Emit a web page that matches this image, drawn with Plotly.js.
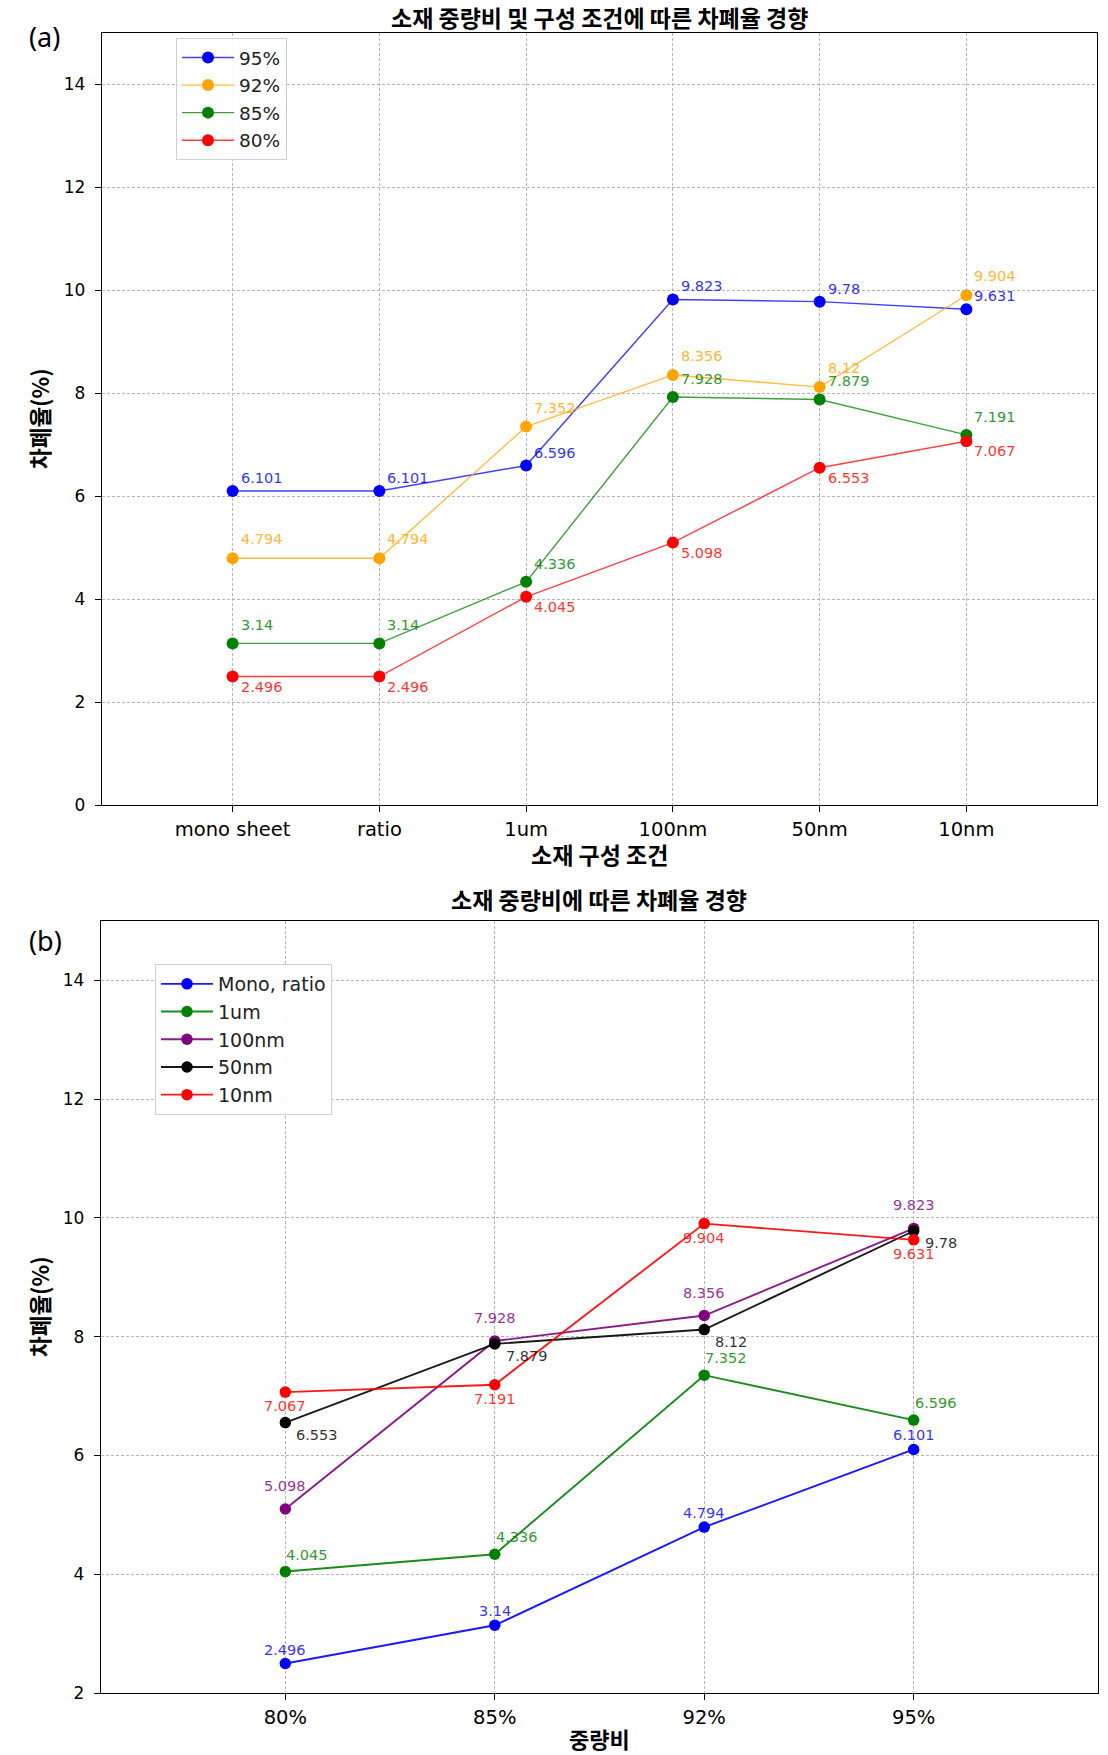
<!DOCTYPE html>
<html>
<head>
<meta charset="utf-8">
<script src="https://cdn.plot.ly/plotly-3.0.1.min.js"></script>
<style>html,body{margin:0;padding:0;background:#fff;}#chart{width:1108px;height:1755px;}</style>
</head>
<body>
<div id="chart"></div>
<script>
// ---------- data ----------
const categoriesA = ["mono sheet", "ratio", "1um", "100nm", "50nm", "10nm"];
const seriesA95 = [6.101, 6.101, 6.596, 9.823, 9.78, 9.631];
const seriesA92 = [4.794, 4.794, 7.352, 8.356, 8.12, 9.904];
const seriesA85 = [3.14, 3.14, 4.336, 7.928, 7.879, 7.191];
const seriesA80 = [2.496, 2.496, 4.045, 5.098, 6.553, 7.067];
const namesA = ["95%", "92%", "85%", "80%"];

const categoriesB = ["80%", "85%", "92%", "95%"];
const seriesBMono = [2.496, 3.14, 4.794, 6.101];
const seriesB1um = [4.045, 4.336, 7.352, 6.596];
const seriesB100nm = [5.098, 7.928, 8.356, 9.823];
const seriesB50nm = [6.553, 7.879, 8.12, 9.78];
const seriesB10nm = [7.067, 7.191, 9.904, 9.631];
const namesB = ["Mono, ratio", "1um", "100nm", "50nm", "10nm"];

const titleA = "소재 중량비 및 구성 조건에 따른 차폐율 경향";
const titleB = "소재 중량비에 따른 차폐율 경향";
const xTitleA = "소재 구성 조건";
const xTitleB = "중량비";
const yTitle = "차폐율(%)";

// ---------- styles ----------
const KR = '"Noto Sans CJK KR", "Noto Sans", sans-serif';
const DJ = '"DejaVu Sans", sans-serif';

const specA = [
  {name: namesA[0], y: seriesA95, color: "#0000ff", rgb: "0,0,255", xa: "left", dx: 6, dy: 13},
  {name: namesA[1], y: seriesA92, color: "#ffa500", rgb: "255,165,0", xa: "left", dx: 6, dy: 19},
  {name: namesA[2], y: seriesA85, color: "#008000", rgb: "0,128,0", xa: "left", dx: 6, dy: 18},
  {name: namesA[3], y: seriesA80, color: "#ff0000", rgb: "255,0,0", xa: "left", dx: 6, dy: -10}
];
const specB = [
  {name: namesB[0], y: seriesBMono, color: "#0000ff", rgb: "0,0,255", xa: "center", dx: 0, dy: 14},
  {name: namesB[1], y: seriesB1um, color: "#008000", rgb: "0,128,0", xa: "left", dx: -1, dy: 17},
  {name: namesB[2], y: seriesB100nm, color: "#800080", rgb: "128,0,128", xa: "center", dx: 0, dy: 23},
  {name: namesB[3], y: seriesB50nm, color: "#000000", rgb: "0,0,0", xa: "left", dx: 9, dy: -12},
  {name: namesB[4], y: seriesB10nm, color: "#ff0000", rgb: "255,0,0", xa: "center", dx: 0, dy: -14}
];

const traces = [];
const annotations = [];

specA.forEach((s, i) => {
  traces.push({
    type: "scatter", mode: "lines+markers", name: s.name,
    x: categoriesA, y: s.y, xaxis: "x", yaxis: "y",
    legend: "legend", legendgroup: "a" + i,
    line: {color: "rgba(" + s.rgb + ",0.75)", width: 1.4},
    marker: {color: s.color, size: 12}
  });
  s.y.forEach((v, j) => {
    annotations.push({
      xref: "x", yref: "y", x: categoriesA[j], y: v, text: String(v),
      showarrow: false, xanchor: s.xa, yanchor: "middle", xshift: s.dx, yshift: s.dy,
      font: {family: DJ, size: 14.5, color: s.color}, opacity: 0.8
    });
  });
});

specB.forEach((s, i) => {
  traces.push({
    type: "scatter", mode: "lines+markers", name: s.name,
    x: categoriesB, y: s.y, xaxis: "x2", yaxis: "y2",
    legend: "legend2", legendgroup: "b" + i,
    line: {color: "rgba(" + s.rgb + ",0.9)", width: 1.9},
    marker: {color: s.color, size: 11.5}
  });
  s.y.forEach((v, j) => {
    annotations.push({
      xref: "x2", yref: "y2", x: categoriesB[j], y: v, text: String(v),
      showarrow: false, xanchor: s.xa, yanchor: "middle", xshift: s.dx, yshift: s.dy,
      font: {family: DJ, size: 14.5, color: s.color}, opacity: 0.8
    });
  });
});

// titles, axis titles and panel labels
const W = 1108, H = 1755;
function px(x) { return x / W; }
function py(y) { return 1 - y / H; }
function paperText(text, x, y, font, extra) {
  return Object.assign({xref: "paper", yref: "paper", x: px(x), y: py(y), text: text,
    showarrow: false, xanchor: "center", yanchor: "middle", font: font}, extra || {});
}
const boldKR = {family: KR, size: 23, color: "#000", weight: "bold"};
const boldKRs = {family: KR, size: 22, color: "#000", weight: "bold"};
const boldKRy = {family: KR, size: 22.5, color: "#000", weight: "bold"};
annotations.push(paperText(titleA, 599, 17, boldKR));
annotations.push(paperText(titleB, 599, 899, boldKR));
annotations.push(paperText(xTitleA, 599, 854, boldKR));
annotations.push(paperText(xTitleB, 599, 1738, boldKRs));
annotations.push(paperText(yTitle, 39, 419, boldKRy, {textangle: -90}));
annotations.push(paperText(yTitle, 39, 1307, boldKRy, {textangle: -90}));
annotations.push(paperText("(a)", 44, 37, {family: '"Noto Sans", sans-serif', size: 27, color: "#000"}));
annotations.push(paperText("(b)", 45, 940, {family: '"Noto Sans", sans-serif', size: 27, color: "#000"}));

const xCommon = {
  type: "category", showline: true, mirror: true, linecolor: "#000", linewidth: 1.3,
  ticks: "outside", ticklen: 6, tickcolor: "#000", tickwidth: 1,
  showgrid: true, gridcolor: "#b5b5b5", gridwidth: 1, griddash: "3px,2px",
  zeroline: false, tickfont: {family: DJ, size: 19.5, color: "#000"}, fixedrange: true
};
const yCommon = {
  showline: true, mirror: true, linecolor: "#000", linewidth: 1.3,
  ticks: "outside", ticklen: 6, tickcolor: "#000", tickwidth: 1, ticklabelstandoff: 6,
  showgrid: true, gridcolor: "#b5b5b5", gridwidth: 1, griddash: "3px,2px",
  zeroline: false, tickfont: {family: DJ, size: 17, color: "#000"}, dtick: 2, tick0: 0, fixedrange: true
};

const layout = {
  width: W, height: H,
  margin: {l: 0, r: 0, t: 0, b: 0},
  paper_bgcolor: "#fff", plot_bgcolor: "#fff",
  showlegend: true,
  xaxis: Object.assign({}, xCommon, {domain: [px(102), px(1097)], anchor: "y", range: [-0.89, 5.89]}),
  yaxis: Object.assign({}, yCommon, {domain: [py(805), py(33)], anchor: "x", range: [0, 15]}),
  xaxis2: Object.assign({}, xCommon, {domain: [px(101), px(1098)], anchor: "y2", range: [-0.88, 3.88]}),
  yaxis2: Object.assign({}, yCommon, {domain: [py(1693), py(921)], anchor: "x2", range: [2, 15]}),
  legend: {
    x: px(176), y: py(38), xanchor: "left", yanchor: "top",
    bgcolor: "rgba(255,255,255,0.9)", bordercolor: "#d0d0d0", borderwidth: 1,
    font: {family: DJ, size: 18.5, color: "#222"}, itemwidth: 52, tracegroupgap: 0.5,
    traceorder: "grouped"
  },
  legend2: {
    x: px(155), y: py(964), xanchor: "left", yanchor: "top",
    bgcolor: "rgba(255,255,255,0.9)", bordercolor: "#d0d0d0", borderwidth: 1,
    font: {family: DJ, size: 19, color: "#222"}, itemwidth: 52, tracegroupgap: 0,
    traceorder: "grouped"
  },
  annotations: annotations
};

Plotly.newPlot("chart", traces, layout, {displayModeBar: false, staticPlot: true});
</script>
</body>
</html>
